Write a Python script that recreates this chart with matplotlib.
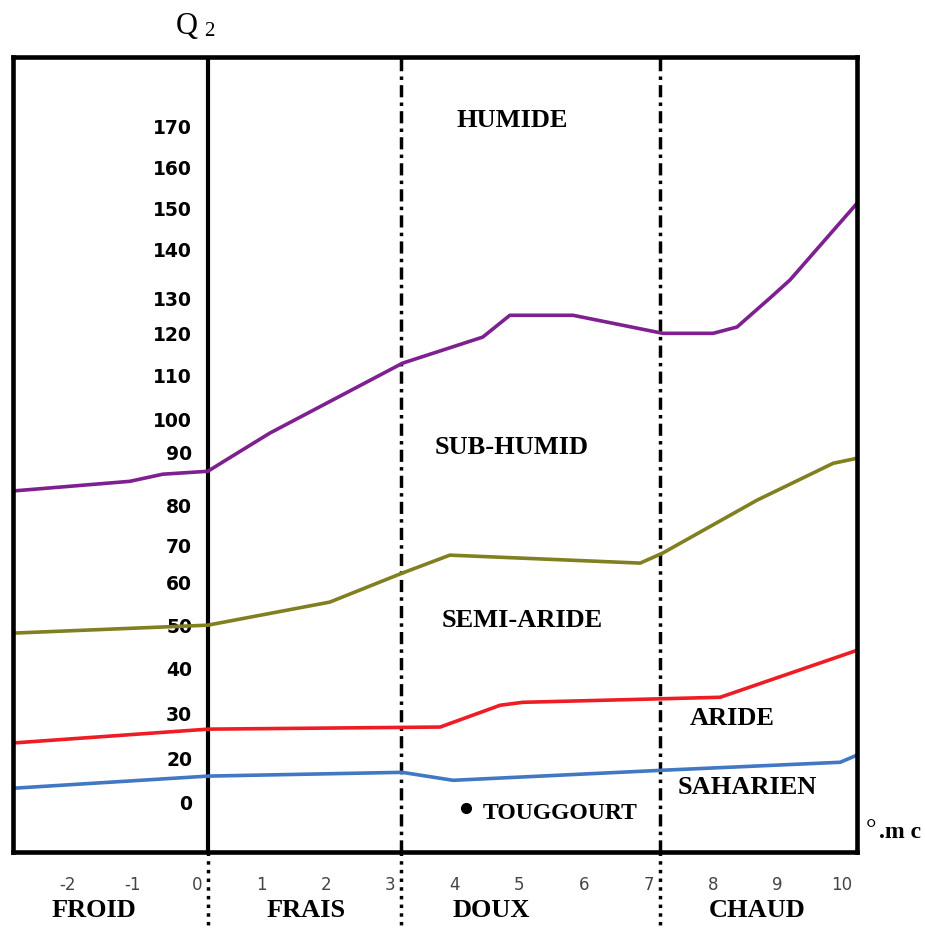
import numpy as np
import matplotlib
matplotlib.use("Agg")
import matplotlib.pyplot as plt
from matplotlib.transforms import ScaledTranslation

# climagramme d'Emberger - Q2 en fonction de m (°C)
humide_x = [-3.02, -1.21, -0.70, 0.0, 0.23, 0.96, 3.02, 4.26, 4.68, 5.66, 7.05, 7.83, 8.20, 8.71, 9.02, 10.06]
humide_y = [83.0, 85.3, 87.0, 87.7, 89.9, 96.8, 113.5, 119.7, 124.9, 124.9, 120.6, 120.6, 122.1, 129.0, 133.3, 151.6]

subhum_x = [-3.02, 0.0, 1.89, 3.01, 3.75, 6.70, 7.05, 8.51, 9.69, 10.06]
subhum_y = [49.1, 51.0, 56.5, 63.4, 67.7, 65.8, 68.2, 80.8, 89.6, 90.8]

semiar_x = [-3.02, 0.0, 3.60, 4.53, 4.88, 7.94, 10.06]
semiar_y = [22.9, 26.2, 26.7, 31.9, 32.6, 33.8, 45.0]

aride_x = [-3.02, 0.0, 3.01, 3.80, 7.05, 9.80, 10.06]
aride_y = [12.1, 15.0, 15.9, 14.0, 16.4, 18.3, 20.0]

station = "TOUGGOURT"
station_x, station_y = 4.0, 7.3

# positions des graduations telles que dessinees sur la figure d'origine
ytick_pos = [170, 160.2, 150.4, 140.7, 129.0, 120.6, 110.6, 100.1, 92.2, 79.6,
             70.1, 61.2, 50.8, 40.7, 30, 19.3, 8.8]
ytick_labels = ["170", "160", "150", "140", "130", "120", "110", "100", "90", "80",
                "70", "60", "50", "40", "30", "20", "0"]
xtick_pos = list(range(-2, 11))
xtick_labels = ["-2", "-1", "0", "1", "2", "3", "4", "5", "6", "7", "8", "9", "10"]

etages = ["HUMIDE", "SUB-HUMID", "SEMI-ARIDE", "ARIDE", "SAHARIEN"]
etage_x = [4.71, 4.71, 4.87, 8.12, 8.36]
etage_y = [171.4, 93.4, 52.2, 28.8, 12.4]

hivers = ["FROID", "FRAIS", "DOUX", "CHAUD"]
hiver_x = [-1.77, 1.52, 4.39, 8.51]
limites = [0, 3, 7]

serif = "Liberation Serif"

fig = plt.figure(figsize=(9.25, 9.30), dpi=100)
ax = fig.add_axes([13 / 925, 78 / 930, 844 / 925, 795 / 930])
ax.set_xlim(-3.02, 10.06)
ax.set_ylim(-3.1, 186.5)

for s in ax.spines.values():
    s.set_linewidth(3.3)
    s.set_color("black")

# limites des variantes thermiques
ax.axvline(limites[0], color="black", lw=3)
for xv in limites[1:]:
    ax.plot([xv, xv], [0, 1], transform=ax.get_xaxis_transform(), color="black",
            lw=2.5, dashes=(3.5, 1.5, 1, 1.5))
for xv in limites:
    ax.plot([xv, xv], [0, -0.1], transform=ax.get_xaxis_transform(), color="black",
            lw=2.5, dashes=(1, 1.5), clip_on=False)

ax.plot(humide_x, humide_y, color="#7e2090", lw=2.6)
ax.plot(subhum_x, subhum_y, color="#808020", lw=2.6)
ax.plot(semiar_x, semiar_y, color="#ee1c24", lw=2.6)
ax.plot(aride_x, aride_y, color="#4277c4", lw=2.6)

ax.plot(station_x, station_y, "o", color="black", ms=7)
ax.text(station_x + 0.26, station_y - 1.1, station, fontsize=17, fontweight="bold",
        family=serif, ha="left", va="center")

for lab, xx, yy in zip(etages, etage_x, etage_y):
    ax.text(xx, yy, lab, fontsize=19, fontweight="bold", family=serif,
            ha="center", va="center")

for lab, xx in zip(hivers, hiver_x):
    ax.text(xx, -0.074, lab, transform=ax.get_xaxis_transform(), fontsize=19,
            fontweight="bold", family=serif, ha="center", va="center")

ax.set_yticks(ytick_pos, ytick_labels)
ax.tick_params(axis="y", length=0, pad=-129, labelsize=13.5)
for t in ax.get_yticklabels():
    t.set_fontweight("bold")
    t.set_family("DejaVu Sans")

ax.set_xticks(xtick_pos, xtick_labels)
ax.tick_params(axis="x", length=0, pad=17, labelsize=12, labelcolor="#444444")
off = ScaledTranslation(-11 / 100, 0, fig.dpi_scale_trans)
for t in ax.get_xticklabels():
    t.set_transform(t.get_transform() + off)

fig.text(176 / 925, 1 - 34 / 930, "Q", fontsize=22, family=serif, va="baseline")
fig.text(204 / 925, 1 - 36 / 930, "2", fontsize=15, family=serif, va="baseline")
fig.text(866 / 925, 1 - 836 / 930, "°", fontsize=19, family=serif, va="baseline")
fig.text(879 / 925, 1 - 838 / 930, ".m c", fontsize=17, fontweight="bold",
         family=serif, va="baseline")

fig.savefig("out.png", dpi=100)
